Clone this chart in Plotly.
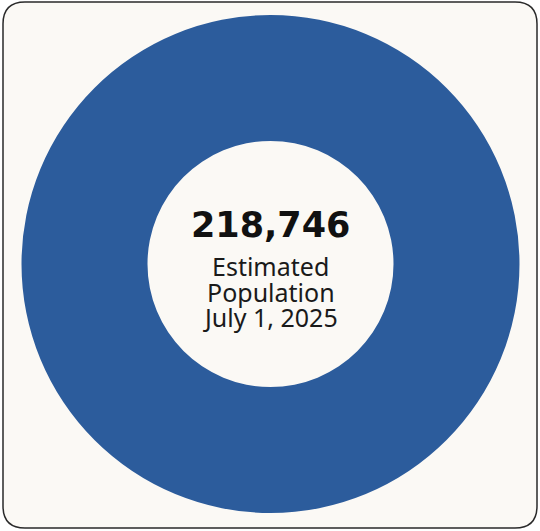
import plotly.graph_objects as go

# Headline figure and its caption lines
population = [218746]
segment_labels = ["Estimated Population"]
caption_lines = ["Estimated", "Population", "July 1, 2025"]

W, H = 540, 531
blue = "#2C5C9C"
card_bg = "#FBF9F5"

fig = go.Figure(
    go.Pie(
        values=population,
        labels=segment_labels,
        hole=0.494,
        sort=False,
        textinfo="none",
        marker=dict(colors=[blue], line=dict(width=0)),
        domain=dict(x=[(270.5 - 249) / W, (270.5 + 249) / W],
                    y=[(H - 264 - 249) / H, (H - 264 + 249) / H]),
        showlegend=False,
        hovertemplate="%{value:,}<extra></extra>",
    )
)

# Rounded card outline
x0, x1 = 3 / W, 537 / W
y0, y1 = 3 / H, 529 / H
rx, ry = 22 / W, 22 / H
card_path = (
    f"M {x0 + rx},{y1} L {x1 - rx},{y1} Q {x1},{y1} {x1},{y1 - ry} "
    f"L {x1},{y0 + ry} Q {x1},{y0} {x1 - rx},{y0} "
    f"L {x0 + rx},{y0} Q {x0},{y0} {x0},{y0 + ry} "
    f"L {x0},{y1 - ry} Q {x0},{y1} {x0 + rx},{y1} Z"
)
fig.add_shape(type="path", path=card_path, xref="paper", yref="paper",
              fillcolor=card_bg, line=dict(color="#2a2a2a", width=1.5),
              layer="below")

# Centre number
fig.add_annotation(
    text=f"{population[0]:,}", x=270.5 / W, y=(H - 225) / H,
    xref="paper", yref="paper", xanchor="center", yanchor="middle",
    showarrow=False,
    font=dict(family="DejaVu Sans", size=35, color="#111111", weight="bold"),
)

# Caption lines below the number, tightly stacked
for i, line in enumerate(caption_lines):
    fig.add_annotation(
        text=line, x=270.5 / W, y=(H - (266 + 25.5 * i)) / H,
        xref="paper", yref="paper", xanchor="center", yanchor="middle",
        showarrow=False,
        font=dict(family="Noto Sans", size=25, color="#1a1a1a"),
    )

fig.update_layout(
    width=W, height=H,
    margin=dict(l=0, r=0, t=0, b=0),
    paper_bgcolor="#ffffff",
    plot_bgcolor="#ffffff",
)

fig.write_html("out.html")
